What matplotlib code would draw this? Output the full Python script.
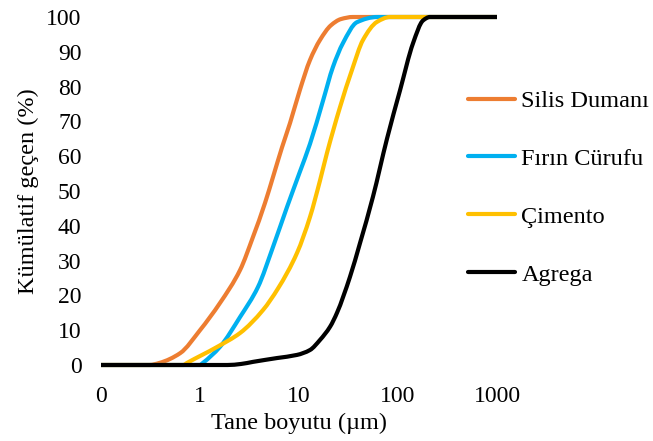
import numpy as np
import matplotlib.pyplot as plt
from matplotlib.path import Path
from matplotlib.patches import PathPatch
from matplotlib.lines import Line2D
from matplotlib.ticker import FixedLocator, NullLocator

# cumulative passing (%) vs grain size (um)
silis_x = [0.1, 0.31, 0.39, 0.63, 1.0, 1.59, 2.54, 3.43, 4.54, 5.46, 6.73, 8.11, 10.2, 12.9, 16.3, 21.0, 26.5, 35.0, 100, 1000]
silis_y = [0, 0, 0.6, 3.4, 10, 17.8, 27.3, 36.8, 46.6, 54, 62.5, 69.5, 79, 87.6, 93.4, 97.6, 99.4, 100, 100, 100]

curuf_x = [0.1, 1.0, 1.07, 1.59, 2.54, 3.85, 5.46, 7.57, 10.2, 12.9, 17.5, 22.0, 27.8, 38.5, 61.4, 200, 1000]
curuf_y = [0, 0, 0.6, 5.2, 13.8, 22.4, 33.9, 45.4, 55.5, 63.5, 76, 85.6, 92.5, 98.5, 100, 100, 100]

cimento_x = [0.1, 0.68, 0.74, 1.49, 2.54, 4.33, 6.14, 9.55, 12.9, 16.3, 19.2, 25.9, 34.3, 44.3, 61.4, 83, 300, 1000]
cimento_y = [0, 0, 0.6, 5.2, 9.2, 15.8, 22, 32.2, 42.5, 53, 61, 74, 84.8, 93.4, 98.6, 100, 100, 100]

agrega_x = [0.1, 1.9, 2.6, 3.43, 6.0, 9.55, 12.9, 16.3, 20.6, 24.2, 32.7, 41.3, 55.8, 77.4, 105, 142, 179, 210, 500, 1000]
agrega_y = [0, 0, 0.3, 0.9, 2.0, 2.9, 4.3, 7.2, 11, 15, 25.3, 35, 48.3, 65, 79, 92.5, 99, 100, 100, 100]

series = [
    ('Silis Dumanı', silis_x, silis_y, '#ED7D31'),
    ('Fırın Cürufu', curuf_x, curuf_y, '#00B0F0'),
    ('Çimento', cimento_x, cimento_y, '#FFC000'),
    ('Agrega', agrega_x, agrega_y, 'black'),
]

x_ticks = [0.1, 1, 10, 100, 1000]
x_labels = ["0", "1", "10", "100", "1000"]
y_ticks = list(range(0, 101, 10))


def smooth_path(xs, ys):
    # monotone cubic (Fritsch-Carlson) through the points, as bezier segments in log-x
    lx = np.log10(xs)
    y = np.asarray(ys, dtype=float)
    n = len(xs)
    h = np.diff(lx)
    d = np.diff(y) / h
    m = np.zeros(n)
    m[0], m[-1] = d[0], d[-1]
    for i in range(1, n - 1):
        if d[i - 1] * d[i] <= 0:
            m[i] = 0
        else:
            w1 = 2 * h[i] + h[i - 1]
            w2 = h[i] + 2 * h[i - 1]
            m[i] = (w1 + w2) / (w1 / d[i - 1] + w2 / d[i])
    verts = [(xs[0], ys[0])]
    codes = [Path.MOVETO]
    for i in range(n - 1):
        c1 = (10 ** (lx[i] + h[i] / 3), y[i] + m[i] * h[i] / 3)
        c2 = (10 ** (lx[i + 1] - h[i] / 3), y[i + 1] - m[i + 1] * h[i] / 3)
        verts += [c1, c2, (xs[i + 1], ys[i + 1])]
        codes += [Path.CURVE4] * 3
    return Path(verts, codes)


plt.rcParams['font.family'] = ['Liberation Serif', 'DejaVu Serif']

fig = plt.figure(figsize=(6.53, 4.41), dpi=100)
ax = fig.add_axes([101/653, 1-365/441, 396/653, 348/441])

lw = 3.0
ax.set_xscale('log')
ax.set_xlim(0.1, 1000)
ax.set_ylim(0, 100)

handles = []
for name, xs, ys, col in series:
    patch = PathPatch(smooth_path(xs, ys), fill=False, edgecolor=col, lw=lw,
                      capstyle='butt', joinstyle='round', clip_on=False)
    ax.add_patch(patch)
    handles.append(Line2D([], [], color=col, lw=lw, solid_capstyle='round'))

ax.xaxis.set_major_locator(FixedLocator(x_ticks))
ax.xaxis.set_minor_locator(NullLocator())
ax.set_xticklabels(x_labels)
ax.set_yticks(y_ticks)

for s in ax.spines.values():
    s.set_visible(False)
ax.tick_params(axis='both', length=0, labelsize=17)
ax.tick_params(axis='x', pad=15)
ax.tick_params(axis='y', pad=14)

ax.set_xlabel('Tane boyutu (µm)', fontsize=17.5, labelpad=4)
ax.set_ylabel('Kümülatif geçen (%)', fontsize=17.5, labelpad=5)

ax.legend(handles, [s[0] for s in series], loc='upper left',
          bbox_to_anchor=(468/653, 1-90/441), bbox_transform=fig.transFigure,
          frameon=False, fontsize=17.5, handlelength=1.95, handletextpad=0.25,
          labelspacing=1.48, borderpad=0, borderaxespad=0)

fig.savefig('out.png', dpi=100)
